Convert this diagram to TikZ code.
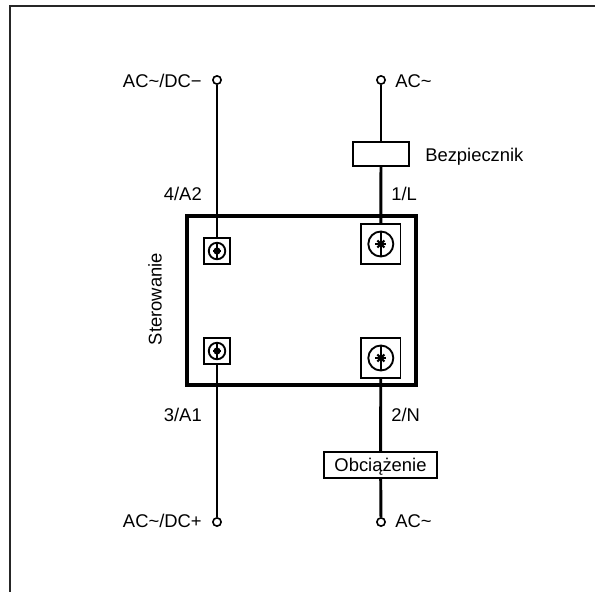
\documentclass[tikz,border=0pt]{standalone}
\usepackage{fontspec}
\setmainfont{Liberation Sans}
\begin{document}
\begin{tikzpicture}[x=0.75pt,y=-0.75pt,
  wire/.style={line width=2.2pt,black},
  thin box/.style={draw=black,line width=1.3pt,fill=white,inner sep=0pt,minimum width=#1*0.75pt,minimum height=#1*0.75pt},
  term/.style={circle,draw=black,line width=1.2pt,fill=white,inner sep=0pt,minimum size=6.2pt},
  lbl/.style={font=\fontsize{13.8pt}{16pt}\selectfont,inner sep=0pt},
  screwring/.style={circle,draw=black,line width=1.4pt,inner sep=0pt,minimum size=#1*0.75pt}]
\useasboundingbox (0,0) rectangle (595,592);
\fill[white] (0,0) rectangle (595,592);
\coordinate (fTL) at (9.5,6.5);
\coordinate (fTR) at (595,6.5);
\coordinate (fBL) at (9.5,592);
\draw[line width=1.5pt,black!85] (fTR) -- (fTL) -- (fBL);
\node[term] (t1) at (217,80) {};
\node[term] (t2) at (381,80) {};
\node[term] (t3) at (217,522) {};
\node[term] (t4) at (381,522) {};
\node[draw=black,line width=1.4pt,fill=white,minimum width=56*0.75pt,minimum height=24*0.75pt,inner sep=0pt] (fuse) at (381,154) {};
\node[draw=black,line width=1.4pt,fill=white,minimum width=113*0.75pt,minimum height=26*0.75pt,inner sep=0pt] (load) at (380.6,465.1) {};
\node[lbl,anchor=base] (loadtxt) at (380.5,471) {Obciążenie};
\node[draw=black,line width=2.6pt,minimum width=229*0.75pt,minimum height=169*0.75pt,inner sep=0pt] (body) at (301.5,300.5) {};
\node[thin box=26] (sTL) at (217,251) {};
\node[thin box=26] (sBL) at (217,351) {};
\node[thin box=39.4] (sTR) at (380.8,244) {};
\node[thin box=39.4] (sBR) at (380.8,358) {};
\draw[wire] (t1) -- (sTL);
\draw[wire] (t3) -- (sBL);
\draw[wire] (t2) -- (fuse);
\draw[wire] (fuse) -- (sTR);
\draw[wire] (sBR) -- (load);
\draw[wire] (load) -- (t4);
\foreach \n/\d/\s in {sTL/16.5/3.8,sBL/16.5/3.8,sTR/25/5.4,sBR/25/5.4}{
  \node[screwring=\d] (r\n) at (\n) {};
  \draw[line width=1.3pt] (r\n.north) -- (r\n.south);
  \draw[line width=1.6pt] ([shift={(-\s,0)}]\n.center) -- ([shift={(\s,0)}]\n.center);
  \draw[line width=1.6pt] ([shift={(-\s*0.65,-\s*0.65)}]\n.center) -- ([shift={(\s*0.65,\s*0.65)}]\n.center);
  \draw[line width=1.6pt] ([shift={(-\s*0.65,\s*0.65)}]\n.center) -- ([shift={(\s*0.65,-\s*0.65)}]\n.center);
}
\node[lbl,anchor=base east] (la) at (202,87.5) {AC\textasciitilde/DC−};
\node[lbl,anchor=base west] (lb) at (395,87.5) {AC\textasciitilde};
\node[lbl,anchor=base west] (lc) at (425,161.5) {Bezpiecznik};
\node[lbl,anchor=base east] (ld) at (202,200) {4/A2};
\node[lbl,anchor=base west] (le) at (391,200) {1/L};
\node[lbl,anchor=base east] (lf) at (202,421) {3/A1};
\node[lbl,anchor=base west] (lg) at (391,421) {2/N};
\node[lbl,anchor=base east] (lh) at (202,527.3) {AC\textasciitilde/DC+};
\node[lbl,anchor=base west] (li) at (395,527.3) {AC\textasciitilde};
\node[lbl,rotate=90,anchor=base] (lj) at (161.5,299) {Sterowanie};
\end{tikzpicture}
\end{document}
